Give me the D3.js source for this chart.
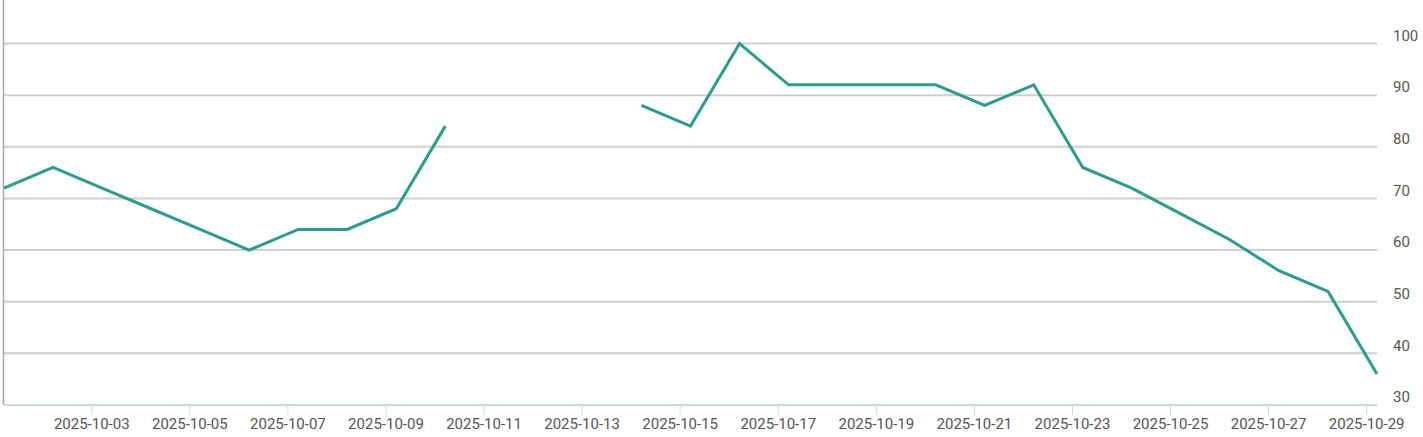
<!DOCTYPE html>
<html lang="en">
<head>
<meta charset="utf-8">
<script src="https://d3js.org/d3.v7.min.js"></script>
<style>
  body { margin: 0; background: #fff; }
  svg { display: block; }
  .grid line { stroke: #cfcfcf; stroke-width: 2px; }
  .tick text { fill: #555; font-size: 15px; font-family: Roboto, "Noto Sans", sans-serif; }
</style>
</head>
<body>
<svg width="1423" height="437"></svg>
<script>
// daily values, null = no reading
var dates = ["2025-10-01","2025-10-02","2025-10-03","2025-10-04","2025-10-05","2025-10-06","2025-10-07",
             "2025-10-08","2025-10-09","2025-10-10","2025-10-11","2025-10-12","2025-10-13","2025-10-14",
             "2025-10-15","2025-10-16","2025-10-17","2025-10-18","2025-10-19","2025-10-20","2025-10-21",
             "2025-10-22","2025-10-23","2025-10-24","2025-10-25","2025-10-26","2025-10-27","2025-10-28",
             "2025-10-29"];
var values = [72, 76, 72, 68, 64, 60, 64,
              64, 68, 84, null, null, null, 88,
              84, 100, 92, 92, 92, 92, 88,
              92, 76, 72, 67, 62, 56, 52,
              36];
var yTicks = [30, 40, 50, 60, 70, 80, 90, 100];

// readings are stamped a few hours after midnight
var offsetHours = 5.3;

var data = dates.map(function(d, i) {
  var t = new Date(d + "T00:00:00Z");
  return { time: new Date(t.getTime() + offsetHours * 3600e3), value: values[i] };
});

var svg = d3.select("svg");
var plotLeft = 4, plotRight = 1377, plotTop = 43.5, plotBottom = 405;

var x = d3.scaleUtc()
  .domain(d3.extent(data, function(d) { return d.time; }))
  .range([plotLeft, plotRight]);

var y = d3.scaleLinear()
  .domain([30, 100])
  .range([plotBottom, plotTop]);

// horizontal grid
svg.append("g")
  .attr("class", "grid")
  .selectAll("line")
  .data(yTicks)
  .enter().append("line")
    .attr("x1", plotLeft).attr("x2", plotRight)
    .attr("y1", function(d) { return y(d); })
    .attr("y2", function(d) { return y(d); });

// right labels sit just above their grid line
var yAxis = svg.append("g")
  .attr("transform", "translate(" + (plotRight + 16) + ",-8)")
  .call(d3.axisRight(y).tickValues(yTicks).tickSize(0).tickPadding(0));
yAxis.select(".domain").remove();

// bottom axis
var xAxis = svg.append("g")
  .attr("transform", "translate(0," + plotBottom + ")")
  .call(d3.axisBottom(x)
    .ticks(d3.utcDay.every(2))
    .tickFormat(d3.utcFormat("%Y-%m-%d"))
    .tickSize(10)
    .tickSizeOuter(0)
    .tickPadding(3));
xAxis.select(".domain").attr("stroke", "#ccd6eb").attr("stroke-width", 2)
  .attr("d", "M" + plotLeft + ",0H" + plotRight);
xAxis.selectAll(".tick line").attr("stroke", "#ccd6eb");

// left edge line
svg.append("line")
  .attr("x1", 3.5).attr("x2", 3.5)
  .attr("y1", 0).attr("y2", plotBottom)
  .attr("stroke", "#aaa").attr("stroke-width", 1.5);

var line = d3.line()
  .defined(function(d) { return d.value != null; })
  .x(function(d) { return x(d.time); })
  .y(function(d) { return y(d.value); });

svg.append("path")
  .datum(data)
  .attr("fill", "none")
  .attr("stroke", "#2a9d8f")
  .attr("stroke-width", 3)
  .attr("d", line);
</script>
</body>
</html>
